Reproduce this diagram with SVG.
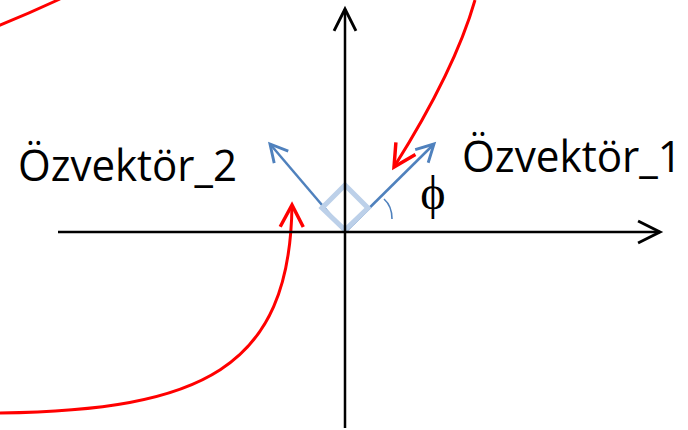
<svg xmlns="http://www.w3.org/2000/svg" width="688" height="430" viewBox="0 0 688 430">
<style>
.axis{stroke:#000;stroke-width:2.5;fill:none}
.vec{stroke:#4F81BD;stroke-width:2.5;fill:none}
.red{stroke:#FF0000;stroke-width:3;fill:none}
.lbl{font-family:"Open Sans","Liberation Sans",sans-serif;font-size:43px;fill:#000}
</style>
<defs>
<marker id="ahK" markerUnits="userSpaceOnUse" orient="auto" markerWidth="30" markerHeight="30" refX="0" refY="0" viewBox="-22 -12 26 24" overflow="visible">
<path d="M-19,-9.5 L0,0 L-19,9.5" fill="none" stroke="#000" stroke-width="2.5"/>
</marker>
<marker id="ahB" markerUnits="userSpaceOnUse" orient="auto" markerWidth="30" markerHeight="30" refX="0" refY="0" viewBox="-22 -12 26 24" overflow="visible">
<path d="M-15,-8 L0,0 L-15,8" fill="none" stroke="#4F81BD" stroke-width="2.5"/>
</marker>
<marker id="ahR" markerUnits="userSpaceOnUse" orient="auto" markerWidth="30" markerHeight="30" refX="0" refY="0" viewBox="-22 -12 26 24" overflow="visible">
<path d="M-19,-10 L0,0 L-19,10" fill="none" stroke="#FF0000" stroke-width="3"/>
</marker>
</defs>
<rect width="688" height="430" fill="#fff"/>
<g id="connectors">
<line class="vec" x1="345" y1="232" x2="434" y2="144" marker-end="url(#ahB)"/>
<line class="vec" x1="345" y1="232" x2="270" y2="144" marker-end="url(#ahB)"/>
<path d="M384,199 Q392,206 392,219" fill="none" stroke="#4F81BD" stroke-width="1.6"/>
<path class="red" d="M-2,26 Q30,13 60,-1"/>
<path class="red" d="M475,0 Q455,70 394,167" marker-end="url(#ahR)"/>
<path class="red" d="M0,413 C200,410 290,370 292,205" marker-end="url(#ahR)"/>
</g>
<g id="right-angle">
<path d="M345,230 L368,208 L345,185 L322,208 Z" fill="none" stroke="#BCD0E9" stroke-width="5" stroke-linejoin="miter"/>
</g>
<g id="axes">
<line class="axis" x1="58" y1="232" x2="660" y2="232" marker-end="url(#ahK)"/>
<line class="axis" x1="345" y1="428" x2="345" y2="9" marker-end="url(#ahK)"/>
</g>
<g id="ozvektor1">
<text class="lbl" x="462" y="172" textLength="220" lengthAdjust="spacingAndGlyphs">Özvektör_1</text>
</g>
<g id="ozvektor2">
<text class="lbl" x="18" y="181" textLength="219" lengthAdjust="spacingAndGlyphs">Özvektör_2</text>
</g>
<g id="phi">
<text x="433" y="209" text-anchor="middle" font-family="'Liberation Serif','DejaVu Serif',serif" font-size="48" fill="#000">ϕ</text>
</g>
</svg>
